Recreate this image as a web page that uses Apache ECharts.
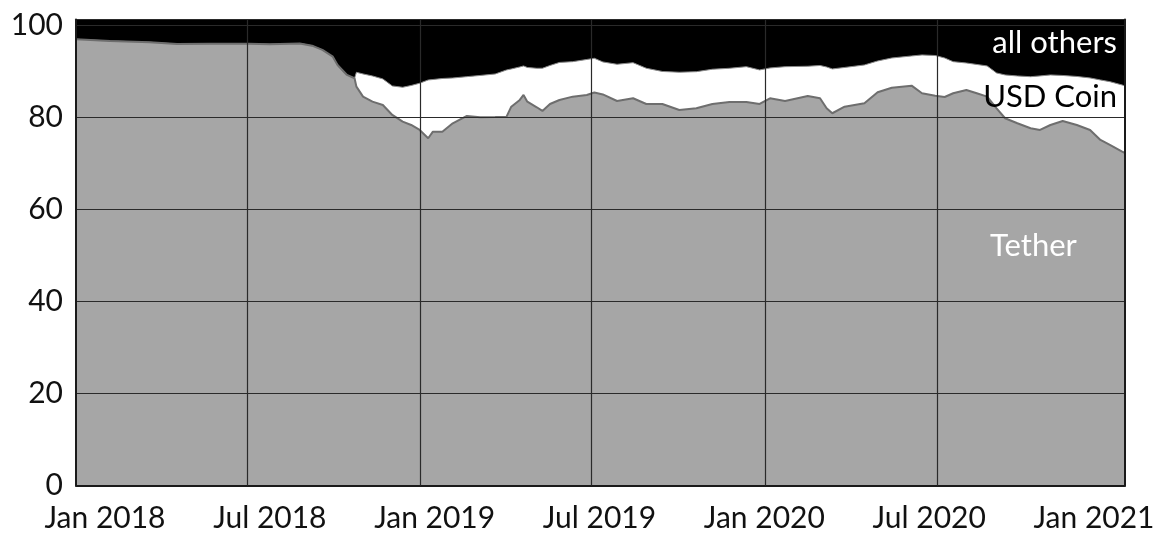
<!DOCTYPE html>
<html>
<head>
<meta charset="utf-8">
<script src="https://cdn.jsdelivr.net/npm/echarts@6/dist/echarts.min.js"></script>
<style>
  html, body { margin: 0; padding: 0; background: #fff; }
  #main { width: 1159px; height: 533px; }
</style>
</head>
<body>
<div id="main"></div>
<script>
// stablecoin market share, percent of total
var dates = [
  '2018-01-01','2018-02-06','2018-03-20','2018-04-18','2018-05-23','2018-07-03','2018-07-25','2018-08-26',
  '2018-09-08','2018-09-19','2018-09-30','2018-10-05','2018-10-15','2018-10-23','2018-10-25','2018-11-01',
  '2018-11-11','2018-11-22','2018-12-02','2018-12-13','2018-12-22','2018-12-31','2019-01-09','2019-01-14',
  '2019-01-24','2019-02-04','2019-02-19','2019-03-05','2019-03-21','2019-04-02','2019-04-07','2019-04-16',
  '2019-04-20','2019-04-24','2019-05-04','2019-05-10','2019-05-18','2019-05-28','2019-06-11','2019-06-26',
  '2019-07-04','2019-07-13','2019-07-28','2019-08-14','2019-08-28','2019-09-14','2019-10-02','2019-10-20',
  '2019-11-06','2019-11-24','2019-12-12','2019-12-26','2020-01-06','2020-01-22','2020-02-15','2020-02-28',
  '2020-03-06','2020-03-12','2020-03-25','2020-04-15','2020-04-29','2020-05-14','2020-06-04','2020-06-15',
  '2020-06-29','2020-07-09','2020-07-18','2020-08-01','2020-08-12','2020-08-23','2020-09-02','2020-09-11',
  '2020-09-24','2020-10-08','2020-10-18','2020-10-29','2020-11-11','2020-11-26','2020-12-10','2020-12-21',
  '2020-12-31','2021-01-13','2021-01-16'
];
var tether = [
  97.05,96.68,96.40,96.03,96.10,96.10,95.97,96.14,95.66,94.73,93.27,91.46,89.29,88.57,86.74,84.57,
  83.48,82.76,80.59,79.13,78.41,77.33,75.52,76.95,76.95,78.78,80.37,80.09,80.15,80.22,82.39,83.85,
  84.94,83.48,82.26,81.46,82.98,83.85,84.57,84.94,85.48,85.05,83.63,84.22,82.98,82.98,81.68,82.04,
  82.98,83.41,83.41,82.98,84.22,83.63,84.72,84.22,82.04,80.96,82.39,83.13,85.52,86.52,86.96,85.31,
  84.78,84.50,85.31,86.02,85.31,84.57,82.04,79.87,78.78,77.69,77.33,78.41,79.28,78.41,77.33,75.15,
  74.06,72.60,72.32
];
var usdCoin = [
  0,0,0,0,0,0,0,0,0,0,0,0,0,0,3.13,4.94,
  5.59,5.66,6.31,7.48,8.59,10.16,12.68,11.35,11.57,9.85,8.55,9.09,9.35,10.16,8.20,7.18,
  6.31,7.44,8.48,9.29,8.37,8.16,7.61,7.72,7.44,7.07,7.98,7.74,7.77,7.07,8.20,7.96,
  7.55,7.33,7.68,7.40,6.59,7.46,6.46,7.13,8.98,9.64,8.53,8.33,6.81,6.46,6.46,8.33,
  8.74,8.48,6.87,5.87,6.26,6.68,7.68,9.42,10.29,11.22,11.75,10.88,9.90,10.55,11.31,13.05,
  13.77,14.51,14.57
];
var allOthers = [
  2.95,3.32,3.60,3.97,3.90,3.90,4.03,3.86,4.34,5.27,6.73,8.54,10.71,11.43,10.13,10.49,
  10.93,11.58,13.10,13.39,13.00,12.52,11.80,11.69,11.47,11.37,11.08,10.82,10.49,9.62,9.41,8.97,
  8.75,9.08,9.26,9.26,8.65,7.99,7.82,7.34,7.08,7.88,8.39,8.04,9.26,9.95,10.13,9.99,
  9.47,9.26,8.91,9.62,9.19,8.91,8.82,8.65,8.97,9.41,9.08,8.54,7.67,7.01,6.58,6.36,
  6.47,7.01,7.82,8.10,8.43,8.75,10.28,10.71,10.93,11.08,10.93,10.71,10.82,11.04,11.37,11.80,
  12.17,12.89,13.10
];
var tickLabels = ['Jan 2018','Jul 2018','Jan 2019','Jul 2019','Jan 2020','Jul 2020','Jan 2021'];
var gridDates = ['2018-07-01','2019-01-01','2019-07-01','2020-01-01','2020-07-01'];

function pairs(vals) {
  return dates.map(function (d, i) { return [d, vals[i]]; });
}

var FONT = 'Lato';
var chart = echarts.init(document.getElementById('main'));

var option = {
  animation: false,
  grid: [
    { left: 76, right: 34, top: 19.5, bottom: 47.5, show: true, backgroundColor: '#000', borderWidth: 0 },
    { left: 105, right: 65, top: 19.5, bottom: 47.5 }
  ],
  xAxis: [
    {
      type: 'time',
      min: '2018-01-01',
      max: '2021-01-16',
      z: 5,
      axisLine: { show: true, onZero: false, lineStyle: { color: '#1a1a1a', width: 2 } },
      axisTick: { show: false },
      axisLabel: { show: false },
      splitLine: { show: false }
    },
    {
      type: 'category',
      gridIndex: 1,
      boundaryGap: false,
      data: tickLabels,
      axisLine: { show: false },
      axisTick: { show: false },
      splitLine: { show: false },
      axisLabel: { interval: 0, margin: 20, fontFamily: FONT, fontSize: 30, color: '#111' }
    }
  ],
  yAxis: [
    {
      type: 'value',
      min: 0,
      max: 101.35,
      interval: 20,
      z: 5,
      axisLine: { show: true, lineStyle: { color: '#1a1a1a', width: 2 } },
      axisTick: { show: false },
      axisLabel: {
        margin: 13, fontFamily: FONT, fontSize: 30, color: '#111',
        formatter: function (v) { return v % 20 === 0 ? String(v) : ''; }
      },
      splitLine: { show: true, lineStyle: { color: '#2a2a2a', width: 1.2 } }
    },
    {
      type: 'value',
      position: 'right',
      min: 0,
      max: 101.35,
      z: 5,
      axisLine: { show: true, lineStyle: { color: '#1a1a1a', width: 2 } },
      axisTick: { show: false },
      axisLabel: { show: false },
      splitLine: { show: false }
    },
    { type: 'value', gridIndex: 1, show: false }
  ],
  series: [
    {
      name: 'Tether',
      type: 'line',
      stack: 'share',
      z: 3,
      showSymbol: false,
      data: pairs(tether),
      lineStyle: { color: '#6e6e6e', width: 2 },
      areaStyle: { color: '#a6a6a6', opacity: 1 },
      markLine: {
        silent: true,
        z: 6,
        symbol: 'none',
        label: { show: false },
        lineStyle: { color: '#2a2a2a', width: 1.2, type: 'solid' },
        data: gridDates.map(function (d) { return { xAxis: d }; })
      }
    },
    {
      name: 'USD Coin',
      type: 'line',
      stack: 'share',
      z: 2,
      showSymbol: false,
      data: pairs(usdCoin),
      lineStyle: { color: '#8a8a8a', width: 1 },
      areaStyle: { color: '#ffffff', opacity: 1 }
    },
    {
      name: 'all others',
      type: 'line',
      stack: 'share',
      z: 1,
      showSymbol: false,
      data: pairs(allOthers),
      lineStyle: { width: 0 },
      areaStyle: { color: '#000000', opacity: 1 }
    }
  ],
  graphic: [
    { type: 'text', right: 42, top: 27, z: 10,
      style: { text: 'all others', fill: '#fff', font: '31px Lato' } },
    { type: 'text', right: 42, top: 81, z: 10,
      style: { text: 'USD Coin', fill: '#000', font: '31px Lato' } },
    { type: 'text', left: 990, top: 230, z: 10,
      style: { text: 'Tether', fill: '#fff', font: '31px Lato' } }
  ]
};

chart.setOption(option);
</script>
</body>
</html>
